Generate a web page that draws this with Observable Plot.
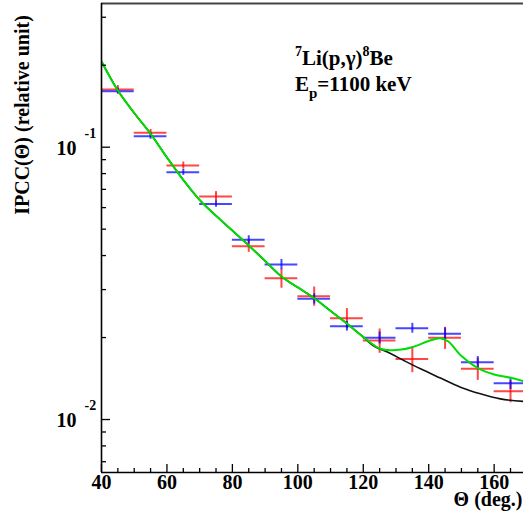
<!DOCTYPE html>
<html><head><meta charset="utf-8">
<script src="https://cdn.jsdelivr.net/npm/d3@7"></script>
<script src="https://cdn.jsdelivr.net/npm/@observablehq/plot@0.6"></script>
<style>body{margin:0;background:#fff;} svg{display:block}</style>
</head><body><div id="chart"></div>
<script>
// bin centres (deg.) and measured values
const theta = [45,55,65,75,85,95,105,115,125,135,145,155,165];
const redVal = [0.1629,0.1129,0.0857,0.0659,0.0433,0.0330,0.02836,0.02355,0.01950,0.01670,0.01995,0.01535,0.01270];
const redErr = [0.0055,0.0033,0.0025,0.0028,0.0022,0.00265,0.0023,0.0020,0.0020,0.00184,0.00186,0.00143,0.00118];
const blueVal = [0.1606,0.1097,0.0809,0.0618,0.0457,0.0371,0.02775,0.02202,0.01995,0.02165,0.02064,0.01623,0.01359];
const blueErr = [0.0041,0.0028,0.0021,0.0016,0.0016,0.0016,0.0012,0.0009,0.0010,0.0009,0.00105,0.0008,0.0007];
const binHalf = 5;
// fitted curves
const greenTheta = [40,45,50,55,60,65,70,75,80,85,90,95,100,105,110,115,120,125,127.5,131,135,140,143.5,146,150,155,160,165,169];
const greenFit = [0.2064,0.1615,0.1335,0.1120,0.0917,0.0758,0.0640,0.0560,0.0494,0.04355,0.03822,0.03351,0.03055,0.02789,0.02505,0.02252,0.02010,0.01823,0.01800,0.01803,0.01843,0.01942,0.01990,0.01934,0.01711,0.01546,0.01463,0.01423,0.01383];
const blackTheta = [40,45,50,55,60,65,70,75,80,85,90,95,100,105,110,115,120,123,128,132.4,137.5,143.6,149.7,155.8,161.9,169];
const blackFit = [0.2064,0.1615,0.1335,0.1120,0.0917,0.0758,0.0640,0.0560,0.0494,0.04355,0.03822,0.03351,0.03055,0.02789,0.02505,0.02252,0.02010,0.0187,0.01754,0.01647,0.01535,0.01420,0.01315,0.01243,0.01191,0.01165];
// axes
const xMajor = [40,60,80,100,120,140,160];
const xTickLabels = ["40","60","80","100","120","140","160"];
const xMinor = [45,50,55,65,70,75,85,90,95,105,110,115,125,130,135,145,150,155,165];
const yMajor = [0.01,0.1];
const yExp = ["-2","-1"];
const yMinor = [0.007,0.008,0.009,0.02,0.03,0.04,0.05,0.06,0.07,0.08,0.09,0.2,0.3];
const xTitle = "Θ (deg.)";
const yTitle = "IPCC(Θ) (relative unit)";

const red = theta.map((t,i)=>({t, v: redVal[i], e: redErr[i]}));
const blue = theta.map((t,i)=>({t, v: blueVal[i], e: blueErr[i]}));
const green = greenTheta.map((t,i)=>({t, v: greenFit[i]}));
const black = blackTheta.map((t,i)=>({t, v: blackFit[i]}));

const W = 523, H = 527, ML = 101, MR = 0, MT = 3, MB = 55;
const PW = W - ML - MR, PH = H - MT - MB;
const yMin = 0.00639, yMax = 0.337;
const font = "'Liberation Serif', 'Times New Roman', serif";
const bold = {fontFamily: font, fontWeight: "bold", fill: "black"};

const cross = (data, color) => [
  Plot.ruleY(data, {y: "v", x1: d=>d.t-binHalf, x2: d=>d.t+binHalf, stroke: color, strokeWidth: 2, strokeOpacity: 0.72}),
  Plot.ruleX(data, {x: "t", y1: d=>d.v-d.e, y2: d=>d.v+d.e, stroke: color, strokeWidth: 2, strokeOpacity: 0.72})
];

const chart = Plot.plot({
  width: W, height: H,
  marginLeft: ML, marginRight: MR, marginTop: MT, marginBottom: MB,
  style: {background: "white", fontFamily: font},
  x: {domain: [40, 168.97], axis: null},
  y: {type: "log", domain: [yMin, yMax], axis: null},
  marks: [
    ...cross(red, "#ff0000"),
    ...cross(blue, "#0000ff"),
    Plot.line(black, {x: "t", y: "v", stroke: "#111", strokeWidth: 1.6, curve: "catmull-rom", clip: true}),
    Plot.line(green, {x: "t", y: "v", stroke: "#00dd00", strokeWidth: 2, curve: "catmull-rom", clip: true}),
    // frame
    Plot.ruleY([yMax], {stroke: "#444", strokeWidth: 2}),
    Plot.ruleX([40], {stroke: "black", strokeWidth: 1.6}),
    Plot.ruleY([yMin], {stroke: "black", strokeWidth: 1.6}),
    // ticks
    Plot.tickX(xMajor, {x: d=>d, insetTop: PH - 8, stroke: "black", strokeWidth: 1.3}),
    Plot.tickX(xMinor, {x: d=>d, insetTop: PH - 4, stroke: "black", strokeWidth: 1.3}),
    Plot.tickY(yMajor, {y: d=>d, insetRight: PW - 9, stroke: "black", strokeWidth: 1.3}),
    Plot.tickY(yMinor, {y: d=>d, insetRight: PW - 5, stroke: "black", strokeWidth: 1.3}),
    // tick labels
    Plot.text(xMajor, {x: d=>d, text: (d,i)=>xTickLabels[i], frameAnchor: "bottom", dy: 16.5, fontSize: 20, ...bold}),
    Plot.text(yMajor, {y: d=>d, text: ()=>"10", frameAnchor: "left", textAnchor: "end", dx: -25, dy: 1.5, fontSize: 20, ...bold}),
    Plot.text(yMajor, {y: d=>d, text: (d,i)=>yExp[i], frameAnchor: "left", textAnchor: "start", dx: -17, dy: -14, fontSize: 14, ...bold}),
    // x title
    Plot.text([xTitle], {frameAnchor: "bottom-right", textAnchor: "end", dx: -1, dy: 33.5, fontSize: 20, ...bold})
  ]
});
document.getElementById("chart").append(chart);

const svg = d3.select(chart);
// y title (rotated)
svg.append("text")
  .attr("transform", "translate(29,115) rotate(-90)")
  .attr("text-anchor", "middle")
  .attr("font-family", font).attr("font-weight", "bold").attr("font-size", 20)
  .text(yTitle);

// annotation with super/subscripts
const t1 = svg.append("text").attr("x", 295).attr("y", 65).attr("text-anchor", "start")
  .attr("font-family", font).attr("font-weight", "bold").attr("font-size", 21);
t1.append("tspan").attr("font-size", 14).attr("dy", -9).text("7");
t1.append("tspan").attr("dy", 9).text("Li(p,γ)");
t1.append("tspan").attr("font-size", 14).attr("dy", -9).text("8");
t1.append("tspan").attr("dy", 9).text("Be");
const t2 = svg.append("text").attr("x", 295).attr("y", 91).attr("text-anchor", "start")
  .attr("font-family", font).attr("font-weight", "bold").attr("font-size", 21);
t2.append("tspan").text("E");
t2.append("tspan").attr("font-size", 15).attr("dy", 7).text("p");
t2.append("tspan").attr("dy", -7).text("=1100 keV");
</script></body></html>
